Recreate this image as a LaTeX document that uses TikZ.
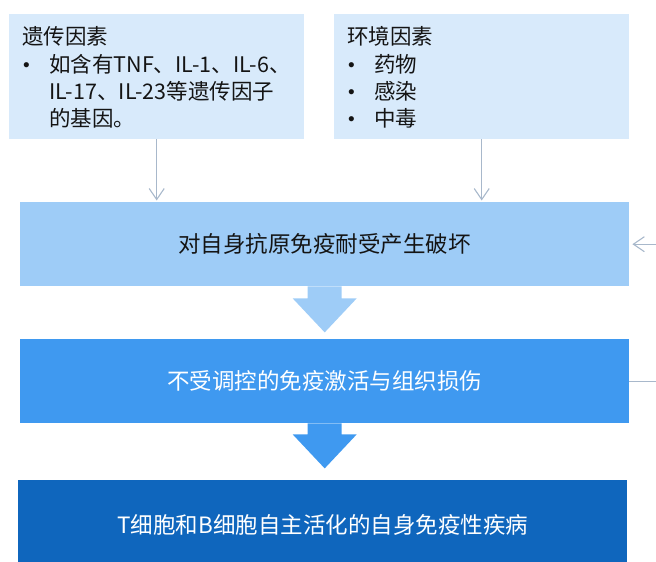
\documentclass[tikz,border=0pt]{standalone}
\usepackage{fontspec}
\setmainfont{Noto Sans CJK SC}
\newfontfamily\bulfont{Liberation Sans}
\usetikzlibrary{arrows.meta,calc}
\definecolor{lightbox}{HTML}{D8EAFB}
\definecolor{stageA}{HTML}{9ECCF7}
\definecolor{stageB}{HTML}{3F99F0}
\definecolor{stageC}{HTML}{0F66BD}
\definecolor{linec}{HTML}{A8B8CB}
\definecolor{textc}{HTML}{141414}
\begin{document}
\begin{tikzpicture}[x=1pt,y=-1pt,
  factor/.style={fill=lightbox, minimum width=295pt, minimum height=125pt, anchor=north west, inner sep=0pt},
  stage/.style={minimum width=609pt, minimum height=84pt, anchor=north west, inner sep=0pt, font=\fontsize{22.5}{26}\selectfont},
  conn/.style={draw=linec, line width=1.1pt, -{Straight Barb[length=11pt,width=15pt]}},
  txt/.style={anchor=west, inner sep=0pt, text=textc, text height=18.5pt, text depth=2.5pt, font=\fontsize{21.5}{26}\selectfont},
  bul/.style={anchor=west, inner sep=0pt, text=textc, text height=14pt, text depth=0pt, font=\bulfont\fontsize{19}{22}\selectfont}]
\useasboundingbox (0,0) rectangle (656,562);
\clip (0,0) rectangle (656,562);

% factor boxes
\node[factor] (gen) at (9,14) {};
\node[factor] (env) at (334,14) {};

% text of genetic factors
\node[txt] (genT) at (22,36) {遗传因素};
\node[bul] (genB) at (23,64) {•};
\node[txt] (gen1) at (49,64) {如含有TNF、IL-1、IL-6、};
\node[txt] (gen2) at (49,91) {IL-17、IL-23等遗传因子};
\node[txt] (gen3) at (49,118) {的基因。};

% text of environmental factors
\node[txt] (envT) at (347,36) {环境因素};
\node[bul] (envB1) at (348,64) {•};
\node[txt] (env1) at (374,64) {药物};
\node[bul] (envB2) at (348,91) {•};
\node[txt] (env2) at (374,91) {感染};
\node[bul] (envB3) at (348,118) {•};
\node[txt] (env3) at (374,118) {中毒};

% stage boxes
\node[stage, fill=stageA, text=textc] (s1) at (20,202) {对自身抗原免疫耐受产生破坏};
\node[stage, fill=stageB, text=white] (s2) at (20,339) {不受调控的免疫激活与组织损伤};
\node[stage, fill=stageC, text=white, minimum height=90pt] (s3) at (18,480) {T细胞和B细胞自主活化的自身免疫性疾病};

% thin connectors
\draw[conn, shorten >=1.5pt] (gen.south) -- (gen.south |- s1.north);
\draw[conn, shorten >=1.5pt] (env.south) -- (env.south |- s1.north);
\draw[conn, shorten >=3pt] (s2.east) -- ++(40,0) |- (s1.east);

% block arrows
\fill[stageA] ($(s1.south)+(-17,0)$) -- ++(0,12) -- ++(-15,0) -- ($(s1.south)+(0,46)$)
  -- ($(s1.south)+(32,12)$) -- ++(-15,0) -- ($(s1.south)+(17,0)$) -- cycle;
\fill[stageB] ($(s2.south)+(-17,0)$) -- ++(0,11) -- ++(-15,0) -- ($(s2.south)+(0,45)$)
  -- ($(s2.south)+(32,11)$) -- ++(-15,0) -- ($(s2.south)+(17,0)$) -- cycle;
\end{tikzpicture}
\end{document}
